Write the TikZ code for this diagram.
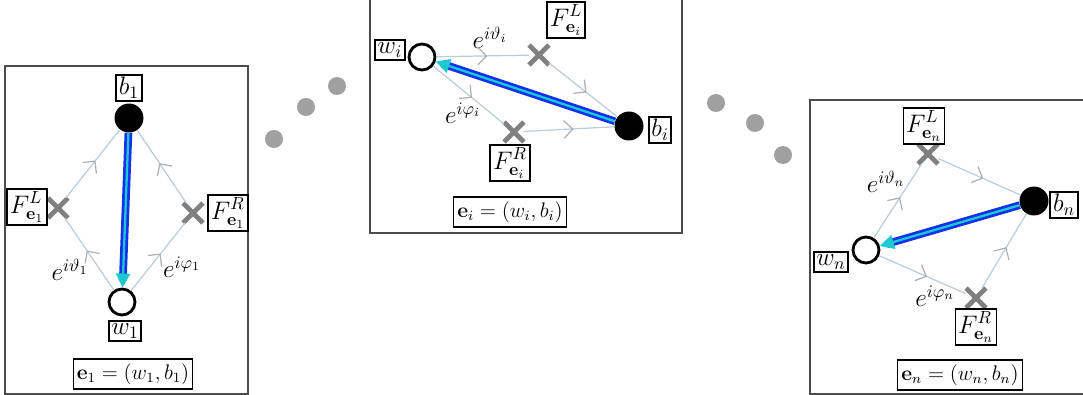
\documentclass[tikz,border=0pt]{standalone}
\usepackage{amsmath, amssymb}
\usepackage{xcolor}
\usepackage{tikz}
\usetikzlibrary{calc, arrows.meta, shapes.misc, decorations.markings}

\definecolor{pathcol}{RGB}{185,205,220}
\definecolor{tipcol}{RGB}{175,175,175}
\definecolor{dotcol}{RGB}{160,160,160}
\definecolor{edgeblue}{RGB}{20,50,235}
\definecolor{edgecyan}{RGB}{30,200,210}

\tikzset{
	every node/.style = {font = \Large},
	lbl/.style = {draw, line width = 1.1pt, inner sep = 1.5pt},
	eqlbl/.style = {draw, line width = 0.6pt, inner sep = 2pt, minimum height = 0.6cm, font = \large},
	black vertex/.style = {circle, fill = black, minimum size = 0.58cm, inner sep = 0pt},
	white vertex/.style = {circle, fill = white, draw = black, line width = 1.6pt, minimum size = 0.52cm, inner sep = 0pt},
	face/.style = {cross out, draw = gray, line width = 2.8pt, minimum size = 0.3cm, inner sep = 0pt},
	flow/.style = {pathcol, line width = 0.7pt,
		decoration = {markings, mark = at position 0.55 with {\arrow[tipcol, line width = 0.7pt]{Straight Barb[length = 5pt, width = 10pt]}}},
		postaction = {decorate}},
	panel/.style = {draw = black!70, line width = 0.6pt},
	ddot/.style = {fill = dotcol, draw = none}
}

\newcommand{\dimeredge}[2]{
	\draw [edgeblue, line width = 4.4pt, shorten >= 4pt] (#1) -- (#2);
	\draw [edgecyan, line width = 1.3pt, -{Triangle[length = 8pt, width = 8pt]}] (#1) -- (#2);
}

\begin{document}
\begin{tikzpicture}[x = 0.02cm, y = -0.02cm]
			\useasboundingbox (0,0) rectangle (1083,395);

			% panels
			\begin{scope}
				\draw [panel] (5,66) rectangle (248,394);
				\draw [panel] (370,-5) rectangle (682,233);
				\draw [panel] (810,100) rectangle (1090,394);
			\end{scope}

			% dots between the panels
			\begin{scope}
				\foreach \px/\py in {274/139, 306/107, 337/86, 716/103, 755/123, 783/155}
				{
					\fill [ddot] (\px,\py) circle [radius = 9];
				}
			\end{scope}

			% first edge
			\node [black vertex] (b1) at (129,118) {};
			\node [white vertex] (w1) at (122,302) {};
			\node [face] (FL1) at (58,208) {};
			\node [face] (FR1) at (193,213) {};
			\node [lbl] (b1lbl) at (129,88) {$b_1$};
			\node [lbl] (w1lbl) at (125,331) {$w_1$};
			\node [lbl] (FL1lbl) at (27,207) {$F^L_{\mathbf{e}_1}$};
			\node [lbl] (FR1lbl) at (228,213) {$F^R_{\mathbf{e}_1}$};
			\node (th1) at (70,270) {$e^{i\vartheta_1}$};
			\node (ph1) at (182,267) {$e^{i\varphi_1}$};
			\node [eqlbl] (eq1) at (133,374) {$\mathbf{e}_1 = (w_1, b_1)$};
			\begin{scope}
				\draw [flow] (w1) -- (FL1);
				\draw [flow] (FL1) -- (b1);
				\draw [flow] (w1) -- (FR1);
				\draw [flow] (FR1) -- (b1);
				\dimeredge{b1}{w1}
			\end{scope}

			% i-th edge
			\node [white vertex] (wi) at (422,57) {};
			\node [black vertex] (bi) at (629,126) {};
			\node [face] (FLi) at (539,55) {};
			\node [face] (FRi) at (514,132) {};
			\node [lbl] (wilbl) at (390,50) {$w_i$};
			\node [lbl] (bilbl) at (660,130) {$b_i$};
			\node [lbl] (FLilbl) at (566,20) {$F^L_{\mathbf{e}_i}$};
			\node [lbl] (FRilbl) at (510,163) {$F^R_{\mathbf{e}_i}$};
			\node (thi) at (490,38) {$e^{i\vartheta_i}$};
			\node (phi) at (463,113) {$e^{i\varphi_i}$};
			\node [eqlbl] (eqi) at (510,212) {$\mathbf{e}_i = (w_i, b_i)$};
			\begin{scope}
				\draw [flow] (wi) -- (FLi);
				\draw [flow] (FLi) -- (bi);
				\draw [flow] (wi) -- (FRi);
				\draw [flow] (FRi) -- (bi);
				\dimeredge{bi}{wi}
			\end{scope}

			% n-th edge
			\node [white vertex] (wn) at (866,250) {};
			\node [black vertex] (bn) at (1034,201) {};
			\node [face] (FLn) at (928,154) {};
			\node [face] (FRn) at (976,298) {};
			\node [lbl] (wnlbl) at (831,262) {$w_n$};
			\node [lbl] (bnlbl) at (1064,205) {$b_n$};
			\node [lbl] (FLnlbl) at (924,126) {$F^L_{\mathbf{e}_n}$};
			\node [lbl] (FRnlbl) at (976,327) {$F^R_{\mathbf{e}_n}$};
			\node (thn) at (886,182) {$e^{i\vartheta_n}$};
			\node (phn) at (935,296) {$e^{i\varphi_n}$};
			\node [eqlbl] (eqn) at (960,375) {$\mathbf{e}_n = (w_n, b_n)$};
			\begin{scope}
				\draw [flow] (wn) -- (FLn);
				\draw [flow] (FLn) -- (bn);
				\draw [flow] (wn) -- (FRn);
				\draw [flow] (FRn) -- (bn);
				\dimeredge{bn}{wn}
			\end{scope}
		\end{tikzpicture}
\end{document}
